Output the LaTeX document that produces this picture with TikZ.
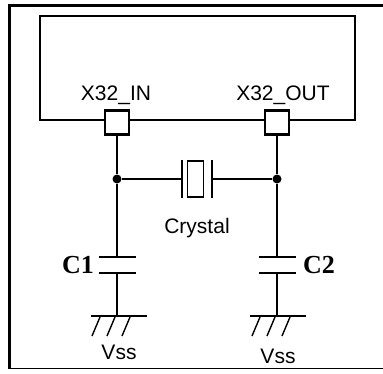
\documentclass[tikz,border=0pt]{standalone}
\usepackage{fontspec}
\setmainfont{Liberation Serif}
\setsansfont{Liberation Sans}
\usetikzlibrary{positioning}

\begin{document}
\begin{tikzpicture}[x=1pt, y=-1pt, line width=1.4pt,
		pinbox/.style = {draw, fill=white, line width=2.6pt, minimum size=24pt, inner sep=0pt},
		sig/.style = {font=\sffamily\fontsize{21}{24}\selectfont},
		capname/.style = {font=\bfseries\fontsize{26}{28}\selectfont},
		junc/.style = {circle, fill, inner sep=0pt, minimum size=9pt},
		plate/.style = {line width=1.6pt}]
		\useasboundingbox (0,0) rectangle (383,373);
		% frame
		\draw[line width=3pt] (383,5.5) -- (9.5,5.5) -- (9.5,369);
		\draw[line width=1.6pt] (9.5,368.5) -- (383,368.5);
		% chip
		\draw (40,16) rectangle (355,120);
		\node[pinbox] (in) at (117,122.5) {};
		\node[pinbox] (out) at (277,122.5) {};
		\node[sig] (inlbl) at (116,95) {X32\_IN};
		\node[sig] (outlbl) at (283,95) {X32\_OUT};
		% crystal
		\node[junc] (j1) at (117,179) {};
		\node[junc] (j2) at (277,179) {};
		\node[draw, line width=1.2pt, minimum width=16pt, minimum height=36pt, inner sep=0pt] (xtal) at (195.5,179) {};
		\coordinate (pl) at (182,179);
		\coordinate (pr) at (212,179);
		\draw[plate] (182,160) -- (182,198);
		\draw[plate] (212,160) -- (212,198);
		\node[sig] (xlbl) at (197,228) {Crystal};
		\draw (in) -- (j1);
		\draw (out) -- (j2);
		\draw (j1) -- (pl);
		\draw (pr) -- (j2);
		% capacitors
		\coordinate (c1a) at (117,257);
		\coordinate (c1b) at (117,273);
		\coordinate (c2a) at (277,257);
		\coordinate (c2b) at (277,273);
		\draw[plate] (99,257) -- (136,257);
		\draw[plate] (99,273) -- (136,273);
		\draw[plate] (259,257) -- (296,257);
		\draw[plate] (259,273) -- (296,273);
		\node[capname] (c1lbl) at (78,265) {C1};
		\node[capname] (c2lbl) at (319,265) {C2};
		\draw (j1) -- (c1a);
		\draw (j2) -- (c2a);
		% grounds
		\coordinate (g1) at (117,316);
		\coordinate (g2) at (277,316);
		\draw (c1b) -- (g1);
		\draw (c2b) -- (g2);
		\draw (91,316) -- (147,316);
		\draw (250,316) -- (306,316);
		\foreach \x in {-17,-2,13} {
			\draw (117+\x,317) -- (109+\x,336);
			\draw (277+\x,317) -- (269+\x,336);
		}
		\node[sig] (vss1) at (119,352) {Vss};
		\node[sig] (vss2) at (278,356) {Vss};
	\end{tikzpicture}
\end{document}
